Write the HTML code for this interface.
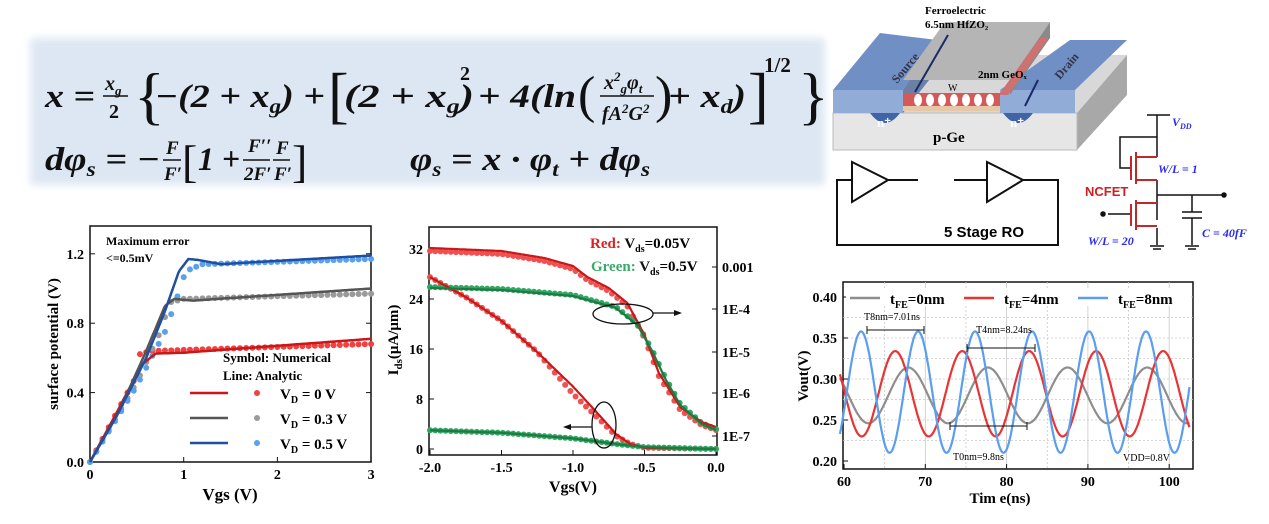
<!DOCTYPE html>
<html><head><meta charset="utf-8"><style>
body{margin:0;background:#fff;}
svg{display:block;font-family:"Liberation Serif",serif;}
.eq{font-family:"Liberation Serif",serif;font-style:italic;font-weight:bold;}
</style></head><body>
<svg id="s" width="1269" height="524" viewBox="0 0 1269 524" xmlns="http://www.w3.org/2000/svg">
<defs>
<filter id="bl" x="-5%" y="-20%" width="110%" height="140%"><feGaussianBlur stdDeviation="4"/></filter>
</defs>
<!-- equation box -->
<rect x="30" y="38" width="795" height="147" fill="#dde7f3" rx="4" filter="url(#bl)"/>
<g class="eq" font-size="33" fill="#111">
<text x="45" y="107" textLength="50" lengthAdjust="spacingAndGlyphs">x =</text>
<text x="105" y="90" font-size="20">x<tspan font-size="13" dy="5">g</tspan></text>
<line x1="103" y1="96" x2="128" y2="96" stroke="#111" stroke-width="1.5"/>
<text x="109" y="118" font-size="20" font-style="normal">2</text>
<text x="134" y="117" font-size="64" font-weight="normal" font-style="normal">{</text>
<text x="155" y="107" textLength="170" lengthAdjust="spacingAndGlyphs">−(2 + x<tspan font-size="20" dy="6">g</tspan><tspan dy="-6">) +</tspan></text>
<text x="328" y="116" font-size="62" font-weight="normal" font-style="normal">[</text>
<text x="344" y="107" textLength="130" lengthAdjust="spacingAndGlyphs">(2 + x<tspan font-size="20" dy="6">g</tspan><tspan dy="-6">)</tspan></text>
<text x="460" y="80" font-size="20" font-style="normal">2</text>
<text x="478" y="107" textLength="98" lengthAdjust="spacingAndGlyphs">+ 4(ln</text>
<text x="578" y="112" font-size="52" font-weight="normal" font-style="normal">(</text>
<text x="604" y="89" font-size="20">x<tspan font-size="13" dy="-8">2</tspan><tspan font-size="13" dy="12">g</tspan><tspan dy="-4">φ</tspan><tspan font-size="13" dy="4">t</tspan></text>
<line x1="600" y1="96" x2="654" y2="96" stroke="#111" stroke-width="1.5"/>
<text x="602" y="120" font-size="20">fA<tspan font-size="13" dy="-7">2</tspan><tspan dy="7">G</tspan><tspan font-size="13" dy="-7">2</tspan></text>
<text x="655" y="112" font-size="52" font-weight="normal" font-style="normal">)</text>
<text x="668" y="107" textLength="78" lengthAdjust="spacingAndGlyphs">+ x<tspan font-size="20" dy="6">d</tspan><tspan dy="-6">)</tspan></text>
<text x="748" y="116" font-size="62" font-weight="normal" font-style="normal">]</text>
<text x="764" y="72" font-size="21" font-style="normal">1/2</text>
<text x="798" y="117" font-size="64" font-weight="normal" font-style="normal">}</text>
<text x="45" y="170" textLength="115" lengthAdjust="spacingAndGlyphs">dφ<tspan font-size="20" dy="6">s</tspan><tspan dy="-6"> = −</tspan></text>
<text x="166" y="154" font-size="19">F</text><line x1="163" y1="160" x2="181" y2="160" stroke="#111" stroke-width="1.5"/><text x="164" y="180" font-size="19">F′</text>
<text x="182" y="177" font-size="46" font-weight="normal" font-style="normal">[</text>
<text x="198" y="170" textLength="42" lengthAdjust="spacingAndGlyphs">1 +</text>
<text x="248" y="152" font-size="19">F′′</text><line x1="243" y1="160" x2="270" y2="160" stroke="#111" stroke-width="1.5"/><text x="244" y="180" font-size="19">2F′</text>
<text x="276" y="154" font-size="19">F</text><line x1="273" y1="160" x2="290" y2="160" stroke="#111" stroke-width="1.5"/><text x="274" y="180" font-size="19">F′</text>
<text x="292" y="177" font-size="46" font-weight="normal" font-style="normal">]</text>
<text x="410" y="170" textLength="240" lengthAdjust="spacingAndGlyphs">φ<tspan font-size="20" dy="6">s</tspan><tspan dy="-6"> = x · φ</tspan><tspan font-size="20" dy="6">t</tspan><tspan dy="-6"> + dφ</tspan><tspan font-size="20" dy="6">s</tspan></text>
</g>

<!-- device -->
<g>
<polygon points="833,113 1077,113 1127,55 883,55" fill="#d8d8d8"/>
<polygon points="1077,113 1127,55 1127,95 1077,150" fill="#a8a8a8"/>
<rect x="833" y="113" width="244" height="37" fill="#e6e6e6" stroke="#bbb"/>
<polygon points="833,90 903,90 937,40 880,33 " fill="#6f8fc5"/>
<rect x="833" y="90" width="70" height="23" fill="#92acd8"/>
<polygon points="903,90 937,40 937,70 903,113" fill="#6c7fa5"/>
<polygon points="1000,90 1075,90 1127,40 1070,40" fill="#6f8fc5"/>
<rect x="1000" y="90" width="75" height="23" fill="#92acd8"/>
<polygon points="903,80 1010,80 1050,22 945,22" fill="#b5b5b5"/>
<polygon points="1010,80 1050,22 1050,38 1010,95" fill="#8a8a8a"/>
<polygon points="903,93 1000,93 1040,38 1048,38 1008,95" fill="#d07070"/>
<rect x="903" y="93" width="97" height="13" fill="#d45a5a"/>
<rect x="903" y="106" width="97" height="5" fill="#e6c8a8"/>
<path d="M870,113 q15,20 30,0z" fill="#3f64a8"/><path d="M1003,113 q15,20 30,0z" fill="#3f64a8"/>
<text x="877" y="127" font-size="13" fill="#fff" font-weight="bold">n⁺</text>
<text x="1010" y="127" font-size="13" fill="#fff" font-weight="bold">n⁺</text>
<text x="933" y="142" font-size="15" font-weight="bold">p-Ge</text>
<text x="897" y="84" font-size="12" font-weight="bold" fill="#334" transform="rotate(-50 897 84)">Source</text>
<text x="1060" y="80" font-size="12" font-weight="bold" fill="#334" transform="rotate(-50 1060 80)">Drain</text>
<text x="925" y="14" font-size="11" font-weight="bold">Ferroelectric</text>
<text x="925" y="28" font-size="11" font-weight="bold">6.5nm HfZO₂</text>
<text x="978" y="78" font-size="11" font-weight="bold">2nm GeOₓ</text>
<text x="948" y="91" font-size="10">W</text>
<line x1="948" y1="35" x2="915" y2="92" stroke="#1a2a6a" stroke-width="2"/>
<line x1="1038" y1="80" x2="1025" y2="106" stroke="#1a2a6a" stroke-width="2"/>
<g fill="#fff"><ellipse cx="918" cy="100" rx="4" ry="6"/><ellipse cx="930" cy="100" rx="4" ry="6"/><ellipse cx="942" cy="100" rx="4" ry="6"/><ellipse cx="954" cy="100" rx="4" ry="6"/><ellipse cx="966" cy="100" rx="4" ry="6"/><ellipse cx="978" cy="100" rx="4" ry="6"/><ellipse cx="990" cy="100" rx="4" ry="6"/></g>
</g>
<!-- RO -->
<g stroke="#111" stroke-width="2" fill="none">
<polygon points="852,162 852,202 888,180"/><line x1="888" y1="180" x2="918" y2="180"/>
<polygon points="987,162 987,202 1023,180"/><line x1="954" y1="180" x2="987" y2="180"/>
<polyline points="852,180 837,180 837,245 1058,245 1058,180 1023,180"/>
</g>
<text x="944" y="237" font-family="Liberation Sans,sans-serif" font-size="15" font-weight="bold">5 Stage RO</text>
<!-- circuit -->
<g stroke="#111" stroke-width="1.5" fill="none">
<line x1="1147" y1="115" x2="1170" y2="115"/><line x1="1157" y1="115" x2="1157" y2="137"/>
<polyline points="1157,137 1120,137 1120,168 1130,168"/>
<line x1="1157" y1="137" x2="1157" y2="157"/><line x1="1157" y1="180" x2="1157" y2="220"/>
<line x1="1157" y1="195" x2="1224" y2="195"/><circle cx="1224" cy="195" r="2" fill="#111"/>
<line x1="1192" y1="195" x2="1192" y2="212"/><line x1="1182" y1="212" x2="1202" y2="212"/><line x1="1182" y1="218" x2="1202" y2="218"/><line x1="1192" y1="218" x2="1192" y2="245"/>
<line x1="1108" y1="214" x2="1130" y2="214"/><circle cx="1103" cy="214" r="2" fill="#111"/>
<line x1="1157" y1="228" x2="1157" y2="245"/>
<line x1="1150" y1="246" x2="1164" y2="246"/><line x1="1153" y1="249" x2="1161" y2="249"/><line x1="1185" y1="246" x2="1199" y2="246"/><line x1="1188" y1="249" x2="1196" y2="249"/>
</g>
<g stroke="#c0282a" stroke-width="2" fill="none">
<line x1="1131" y1="156" x2="1131" y2="180"/><line x1="1136" y1="152" x2="1136" y2="184"/><polyline points="1136,157 1157,157"/><polyline points="1136,180 1157,180"/>
<line x1="1131" y1="204" x2="1131" y2="226"/><line x1="1136" y1="200" x2="1136" y2="230"/><polyline points="1136,203 1157,203"/><polyline points="1136,226 1157,226"/>
</g>
<text x="1085" y="196" font-family="Liberation Sans,sans-serif" font-size="13" font-weight="bold" fill="#d02020">NCFET</text>
<g font-style="italic" font-weight="bold" font-size="12" fill="#2a2af0"><text x="1172" y="126">V<tspan font-size="8" dy="3">DD</tspan></text><text x="1158" y="173">W/L = 1</text><text x="1088" y="245">W/L = 20</text><text x="1202" y="237">C = 40fF</text></g>

<g id="p1"></g><g id="p2"></g><g id="p3"></g>
</svg>
<script>
var NS="http://www.w3.org/2000/svg";
function el(p,t,a,txt){var e=document.createElementNS(NS,t);for(var k in a)e.setAttribute(k,a[k]);if(txt!==undefined)e.textContent=txt;document.getElementById(p).appendChild(e);return e;}
function interp(pts,x){for(var i=0;i<pts.length-1;i++){if(x>=pts[i][0]&&x<=pts[i+1][0]){var t=(x-pts[i][0])/(pts[i+1][0]-pts[i][0]);return pts[i][1]+(pts[i+1][1]-pts[i][1])*t;}}return pts[pts.length-1][1];}
function line(p,pts,X,Y,c,w,x0,x1,n){var d="";for(var i=0;i<=n;i++){var x=x0+(x1-x0)*i/n;d+=(i?"L":"M")+X(x).toFixed(1)+","+Y(interp(pts,x)).toFixed(1);}el(p,"path",{d:d,stroke:c,"stroke-width":w,fill:"none"});}
function dots(p,pts,X,Y,c,x0,x1,n,r,dy){for(var i=0;i<=n;i++){var x=x0+(x1-x0)*i/n;el(p,"circle",{cx:X(x),cy:Y(interp(pts,x))+(dy||0),r:r,fill:c});}}
// plot1
var X1=function(v){return 90+v*93.7},Y1=function(p){return 462-p*173.5};
el("p1","rect",{x:90,y:226,width:281,height:236,fill:"none",stroke:"#111","stroke-width":1.5});
[0,0.4,0.8,1.2].forEach(function(t){var y=Y1(t);el("p1","line",{x1:90,y1:y,x2:95,y2:y,stroke:"#111"});el("p1","line",{x1:366,y1:y,x2:371,y2:y,stroke:"#111"});el("p1","text",{x:84,y:y+5,"text-anchor":"end","font-size":14,"font-weight":"bold"},t.toFixed(1));});
[0,1,2,3].forEach(function(t){var x=X1(t);el("p1","line",{x1:x,y1:462,x2:x,y2:457,stroke:"#111"});el("p1","text",{x:x,y:479,"text-anchor":"middle","font-size":14,"font-weight":"bold"},t);});
el("p1","text",{x:230,y:500,"text-anchor":"middle","font-size":17,"font-weight":"bold"},"Vgs (V)");
el("p1","text",{x:0,y:0,"text-anchor":"middle","font-size":15,"font-weight":"bold",transform:"translate(58 344) rotate(-90)"},"surface potential (V)");
var r=[[0,0],[0.3,0.3],[0.55,0.56],[0.7,0.625],[1,0.63],[3,0.71]];
var g=[[0,0],[0.3,0.28],[0.6,0.64],[0.8,0.9],[0.9,0.94],[1.1,0.93],[1.5,0.945],[3,1.0]];
var b=[[0,0],[0.3,0.28],[0.6,0.6],[0.8,0.87],[0.95,1.1],[1.05,1.17],[1.15,1.165],[1.4,1.14],[1.7,1.15],[3,1.19]];
var rd=[[0,0],[0.5,0.5],[0.52,0.62],[0.65,0.64],[3,0.68]];
var gd=[[0,0],[0.5,0.46],[0.75,0.75],[0.85,0.92],[1,0.94],[3,0.97]];
var bd=[[0,0],[0.5,0.44],[0.8,0.75],[0.95,0.98],[1.02,1.1],[1.2,1.14],[3,1.17]];
dots("p1",rd,X1,Y1,"#f04040",0,3,45,3);dots("p1",gd,X1,Y1,"#9a9a9a",0,3,45,3);dots("p1",bd,X1,Y1,"#5aa0ee",0,3,45,3);
line("p1",r,X1,Y1,"#c81818",2.5,0,3,200);line("p1",g,X1,Y1,"#555",2.5,0,3,200);line("p1",b,X1,Y1,"#1f4fa0",2.5,0,3,200);
el("p1","text",{x:106,y:245,"font-size":12,"font-weight":"bold"},"Maximum error");
el("p1","text",{x:106,y:262,"font-size":12,"font-weight":"bold"},"<=0.5mV");
el("p1","text",{x:223,y:362,"font-size":13,"font-weight":"bold"},"Symbol: Numerical");
el("p1","text",{x:223,y:380,"font-size":13,"font-weight":"bold"},"Line: Analytic");
[["#c81818","#f04040","0 V",393],["#555","#9a9a9a","0.3 V",418],["#1f4fa0","#5aa0ee","0.5 V",443]].forEach(function(a){el("p1","line",{x1:190,y1:a[3],x2:228,y2:a[3],stroke:a[0],"stroke-width":2.5});el("p1","circle",{cx:257,cy:a[3],r:3,fill:a[1]});var t=el("p1","text",{x:280,y:a[3]+6,"font-size":15,"font-weight":"bold"});t.innerHTML='V<tspan font-size="10" dy="4">D</tspan><tspan dy="-4"> = '+a[2]+'</tspan>';});
// plot2
var X2=function(v){return 716+v*143},Y2=function(i){return 449-i*6.25},YP=function(y){return y};
el("p2","rect",{x:429,y:227,width:288,height:228,fill:"none",stroke:"#111","stroke-width":1.5});
[0,8,16,24,32].forEach(function(t){var y=Y2(t);el("p2","line",{x1:429,y1:y,x2:434,y2:y,stroke:"#111"});el("p2","text",{x:423,y:y+5,"text-anchor":"end","font-size":14,"font-weight":"bold"},t);});
[["0.001",267],["1E-4",309],["1E-5",352],["1E-6",393],["1E-7",436]].forEach(function(a){el("p2","line",{x1:712,y1:a[1],x2:717,y2:a[1],stroke:"#111"});el("p2","text",{x:722,y:a[1]+5,"font-size":14,"font-weight":"bold"},a[0]);});
[-2,-1.5,-1,-0.5,0].forEach(function(t){var x=X2(t);el("p2","line",{x1:x,y1:455,x2:x,y2:450,stroke:"#111"});el("p2","text",{x:x,y:472,"text-anchor":"middle","font-size":14,"font-weight":"bold"},t.toFixed(1));});
el("p2","text",{x:573,y:492,"text-anchor":"middle","font-size":16,"font-weight":"bold"},"Vgs(V)");
var yl=el("p2","text",{x:0,y:0,"font-size":15,"font-weight":"bold","text-anchor":"middle",transform:"translate(398 340) rotate(-90)"});yl.innerHTML='I<tspan font-size="11" dy="4">ds</tspan><tspan dy="-4">(μA/μm)</tspan>';
var rl=[[-2,27.5],[-1.75,24.3],[-1.5,20.5],[-1.25,15.5],[-1,10],[-0.8,5],[-0.7,2.4],[-0.6,0.8],[-0.5,0.2],[0,0]];
var gl=[[-2,3],[-1.5,2.6],[-1,1.7],[-0.7,0.8],[-0.5,0.3],[0,0]];
var ru=[[-2,248],[-1.5,251],[-1.2,258],[-1,266],[-0.9,277],[-0.75,288],[-0.62,303],[-0.5,335],[-0.4,373],[-0.25,407],[-0.1,422],[0,427]];
var gu=[[-2,288],[-1.5,290],[-1,296],[-0.7,308],[-0.55,325],[-0.45,350],[-0.35,380],[-0.25,405],[-0.1,424],[0,430]];
var rld=rl.map(function(p){return [p[0],p[1]*(p[0]>-1.2&&p[0]<-0.6?0.88:1)]});
dots("p2",rld,X2,Y2,"#f05050",-2,0,55,3);dots("p2",gl,X2,Y2,"#2fa864",-2,0,55,3);
dots("p2",ru,X2,YP,"#f05050",-2,0,55,3,3);dots("p2",gu,X2,YP,"#2fa864",-2,0,55,3,-1);
line("p2",rl,X2,Y2,"#c81818",2.2,-2,0,200);line("p2",gl,X2,Y2,"#1e7a40",2.2,-2,0,200);
line("p2",ru,X2,YP,"#c81818",2.2,-2,0,200);line("p2",gu,X2,YP,"#1e7a40",2.2,-2,0,200);
el("p2","ellipse",{cx:623,cy:314,rx:30,ry:10,fill:"none",stroke:"#111","stroke-width":1.3});
el("p2","line",{x1:653,y1:313,x2:680,y2:313,stroke:"#111","stroke-width":1.3});el("p2","polygon",{points:"682,313 674,310 674,316",fill:"#111"});
el("p2","ellipse",{cx:604,cy:425,rx:12,ry:23,fill:"none",stroke:"#111","stroke-width":1.3});
el("p2","line",{x1:592,y1:427,x2:565,y2:427,stroke:"#111","stroke-width":1.3});el("p2","polygon",{points:"563,427 571,424 571,430",fill:"#111"});
var t1=el("p2","text",{x:590,y:248,"font-size":15,"font-weight":"bold"});t1.innerHTML='<tspan fill="#e02020">Red:</tspan> <tspan fill="#111">V</tspan><tspan font-size="10" dy="4">ds</tspan><tspan dy="-4">=0.05V</tspan>';
var t2=el("p2","text",{x:591,y:271,"font-size":15,"font-weight":"bold"});t2.innerHTML='<tspan fill="#3aaa6a">Green:</tspan> <tspan fill="#111">V</tspan><tspan font-size="10" dy="4">ds</tspan><tspan dy="-4">=0.5V</tspan>';
// plot3
var X3=function(t){return 844+(t-60)*8.13},Y3=function(v){return 461-(v-0.2)*820};
el("p3","rect",{x:843,y:282,width:350,height:187,fill:"#fff",stroke:"#111","stroke-width":1.5});
for(var t=65;t<=100;t+=5){el("p3","line",{x1:X3(t),y1:282,x2:X3(t),y2:469,stroke:"#c8c8c8","stroke-dasharray":t%10?"2,2":"none","stroke-width":0.8});}
for(var v=0.225;v<0.41;v+=0.025){el("p3","line",{x1:843,y1:Y3(v),x2:1193,y2:Y3(v),stroke:"#c8c8c8","stroke-dasharray":"2,2","stroke-width":0.8});}
[0.2,0.25,0.3,0.35,0.4].forEach(function(v){var y=Y3(v);el("p3","line",{x1:843,y1:y,x2:848,y2:y,stroke:"#111"});el("p3","text",{x:837,y:y+5,"text-anchor":"end","font-size":14,"font-weight":"bold"},v.toFixed(2));});
[60,70,80,90,100].forEach(function(t){var x=X3(t);el("p3","line",{x1:x,y1:469,x2:x,y2:464,stroke:"#111"});el("p3","text",{x:x,y:486,"text-anchor":"middle","font-size":14,"font-weight":"bold"},t);});
el("p3","text",{x:1000,y:503,"text-anchor":"middle","font-size":15,"font-weight":"bold"},"Tim e(ns)");
el("p3","text",{x:0,y:0,"text-anchor":"middle","font-size":15,"font-weight":"bold",transform:"translate(808 376) rotate(-90)"},"Vout(V)");
function sine(c,cen,amp,per,pk){var d="";for(var i=0;i<=600;i++){var t=59.5+43*i/600;var v=cen+amp*Math.cos(2*Math.PI*(t-pk)/per);d+=(i?"L":"M")+X3(t).toFixed(1)+","+Y3(v).toFixed(1);}el("p3","path",{d:d,stroke:c,"stroke-width":2.2,fill:"none"});}
sine("#8e8e8e",0.28,0.034,9.8,67.9);sine("#e83434",0.282,0.052,8.24,66.3);sine("#5a9ef0",0.284,0.074,7.01,62.1);
el("p3","rect",{x:846,y:288,width:344,height:18,fill:"#fff"});
[["#8e8e8e",850,"0nm"],["#e83434",964,"4nm"],["#5a9ef0",1078,"8nm"]].forEach(function(a){el("p3","line",{x1:a[1],y1:298,x2:a[1]+30,y2:298,stroke:a[0],"stroke-width":2.5});var t=el("p3","text",{x:a[1]+40,y:304,"font-size":15,"font-weight":"bold"});t.innerHTML='t<tspan font-size="10" dy="4">FE</tspan><tspan dy="-4">='+a[2]+'</tspan>';});
function dim(x1,x2,y){el("p3","line",{x1:x1,y1:y,x2:x2,y2:y,stroke:"#111"});el("p3","line",{x1:x1,y1:y-4,x2:x1,y2:y+4,stroke:"#111"});el("p3","line",{x1:x2,y1:y-4,x2:x2,y2:y+4,stroke:"#111"});}
dim(867,924,330);dim(967,1035,348);dim(950,1027,426);
el("p3","text",{x:864,y:320,"font-size":10},"T8nm=7.01ns");
el("p3","text",{x:976,y:333,"font-size":10},"T4nm=8.24ns");
el("p3","text",{x:953,y:460,"font-size":10},"T0nm=9.8ns");
el("p3","text",{x:1123,y:461,"font-size":10},"VDD=0.8V");
</script>
</body></html>
